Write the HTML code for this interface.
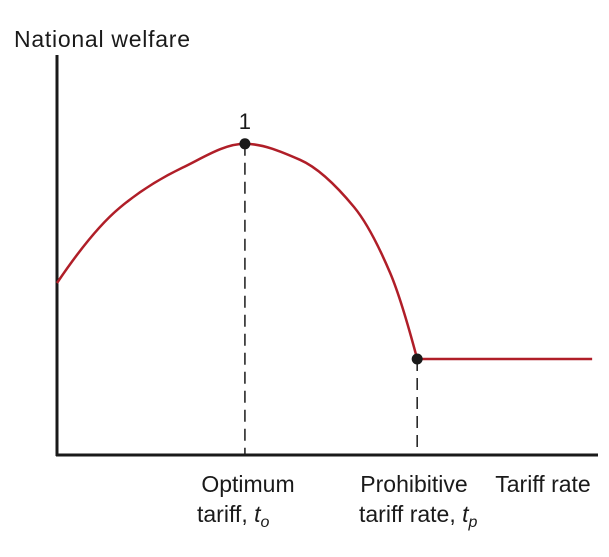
<!DOCTYPE html>
<html><head><meta charset="utf-8"><style>
body{margin:0;background:#fff;}
svg text{font-family:"Liberation Sans",Arial,sans-serif;fill:#1a1a1a;}
</style></head><body>
<svg width="609" height="552" viewBox="0 0 609 552" id="chart">
<text x="14" y="47" font-size="23" textLength="176">National welfare</text>
<line x1="57" y1="55" x2="57" y2="456" stroke="#1a1a1a" stroke-width="3"/>
<line x1="56" y1="455" x2="598" y2="455" stroke="#1a1a1a" stroke-width="3"/>
<g id="marks"></g>
<text x="248" y="492" font-size="23" text-anchor="middle">Optimum</text>
<text x="197" y="522" font-size="23">tariff, <tspan font-style="italic">t</tspan><tspan font-style="italic" font-size="16" dy="5">o</tspan></text>
<text x="414" y="492" font-size="23" text-anchor="middle">Prohibitive</text>
<text x="359" y="522" font-size="23">tariff rate, <tspan font-style="italic">t</tspan><tspan font-style="italic" font-size="16" dy="5">p</tspan></text>
<text x="543" y="492" font-size="23" text-anchor="middle">Tariff rate</text>
</svg>
<script>
const tariff = [0, 1.16, 2.32, 3.48, 4.5, 5.5, 6.17, 6.67];
const welfare = [4.3, 6.18, 7.18, 7.78, 7.38, 6.2, 4.55, 2.4];
const flatEndTariff = [6.67, 9.91];
const flatWelfare = [2.4, 2.4];
const optimumTariff = [3.48];
const optimumWelfare = [7.78];
const prohibitiveTariff = [6.67];
const prohibitiveWelfare = [2.4];
const pointLabels = ["1"];

const X = t => 57 + t * 54;
const Y = w => 455 - w * 40;
const NS = "http://www.w3.org/2000/svg";
const g = document.getElementById('marks');
function mk(tag, attrs){const e=document.createElementNS(NS,tag);for(const k in attrs)e.setAttribute(k,attrs[k]);g.appendChild(e);return e;}

// monotone cubic (Fritsch-Carlson) through data
const n = tariff.length;
const h = [], del = [];
for(let i=0;i<n-1;i++){h.push(tariff[i+1]-tariff[i]);del.push((welfare[i+1]-welfare[i])/h[i]);}
const m = new Array(n);
m[0] = ((2*h[0]+h[1])*del[0] - h[0]*del[1])/(h[0]+h[1]);
m[n-1] = ((2*h[n-2]+h[n-3])*del[n-2] - h[n-2]*del[n-3])/(h[n-2]+h[n-3]);
for(let i=1;i<n-1;i++){
  if(del[i-1]*del[i]<=0) m[i]=0;
  else { const w1=2*h[i]+h[i-1], w2=h[i]+2*h[i-1]; m[i]=(w1+w2)/(w1/del[i-1]+w2/del[i]); }
}
let d = `M${X(tariff[0])},${Y(welfare[0])}`;
for(let i=0;i<n-1;i++){
  const c1x=tariff[i]+h[i]/3, c1y=welfare[i]+m[i]*h[i]/3;
  const c2x=tariff[i+1]-h[i]/3, c2y=welfare[i+1]-m[i+1]*h[i]/3;
  d+=` C${X(c1x)},${Y(c1y)} ${X(c2x)},${Y(c2y)} ${X(tariff[i+1])},${Y(welfare[i+1])}`;
}
d += ` L${X(flatEndTariff[1])},${Y(flatWelfare[1])}`;

const dash1 = mk('line',{x1:X(optimumTariff[0]),y1:Y(optimumWelfare[0]),x2:X(optimumTariff[0]),y2:455,stroke:'#1a1a1a','stroke-width':1.5,'stroke-dasharray':'12,7'});


const dash2 = mk('line',{x1:X(prohibitiveTariff[0]),y1:Y(prohibitiveWelfare[0]),x2:X(prohibitiveTariff[0]),y2:455,stroke:'#1a1a1a','stroke-width':1.5,'stroke-dasharray':'12,7'});



const curve = mk('path',{d:d,fill:'none',stroke:'#b01e28','stroke-width':2.5});



const p1 = mk('circle',{cx:X(optimumTariff[0]),cy:Y(optimumWelfare[0]),r:5.5,fill:'#1a1a1a'});


const p2 = mk('circle',{cx:X(prohibitiveTariff[0]),cy:Y(prohibitiveWelfare[0]),r:5.5,fill:'#1a1a1a'});


const lbl = mk('text',{x:X(optimumTariff[0]),y:Y(optimumWelfare[0])-15,'font-size':22,'text-anchor':'middle'});
lbl.textContent = pointLabels[0];


</script>
</body></html>
